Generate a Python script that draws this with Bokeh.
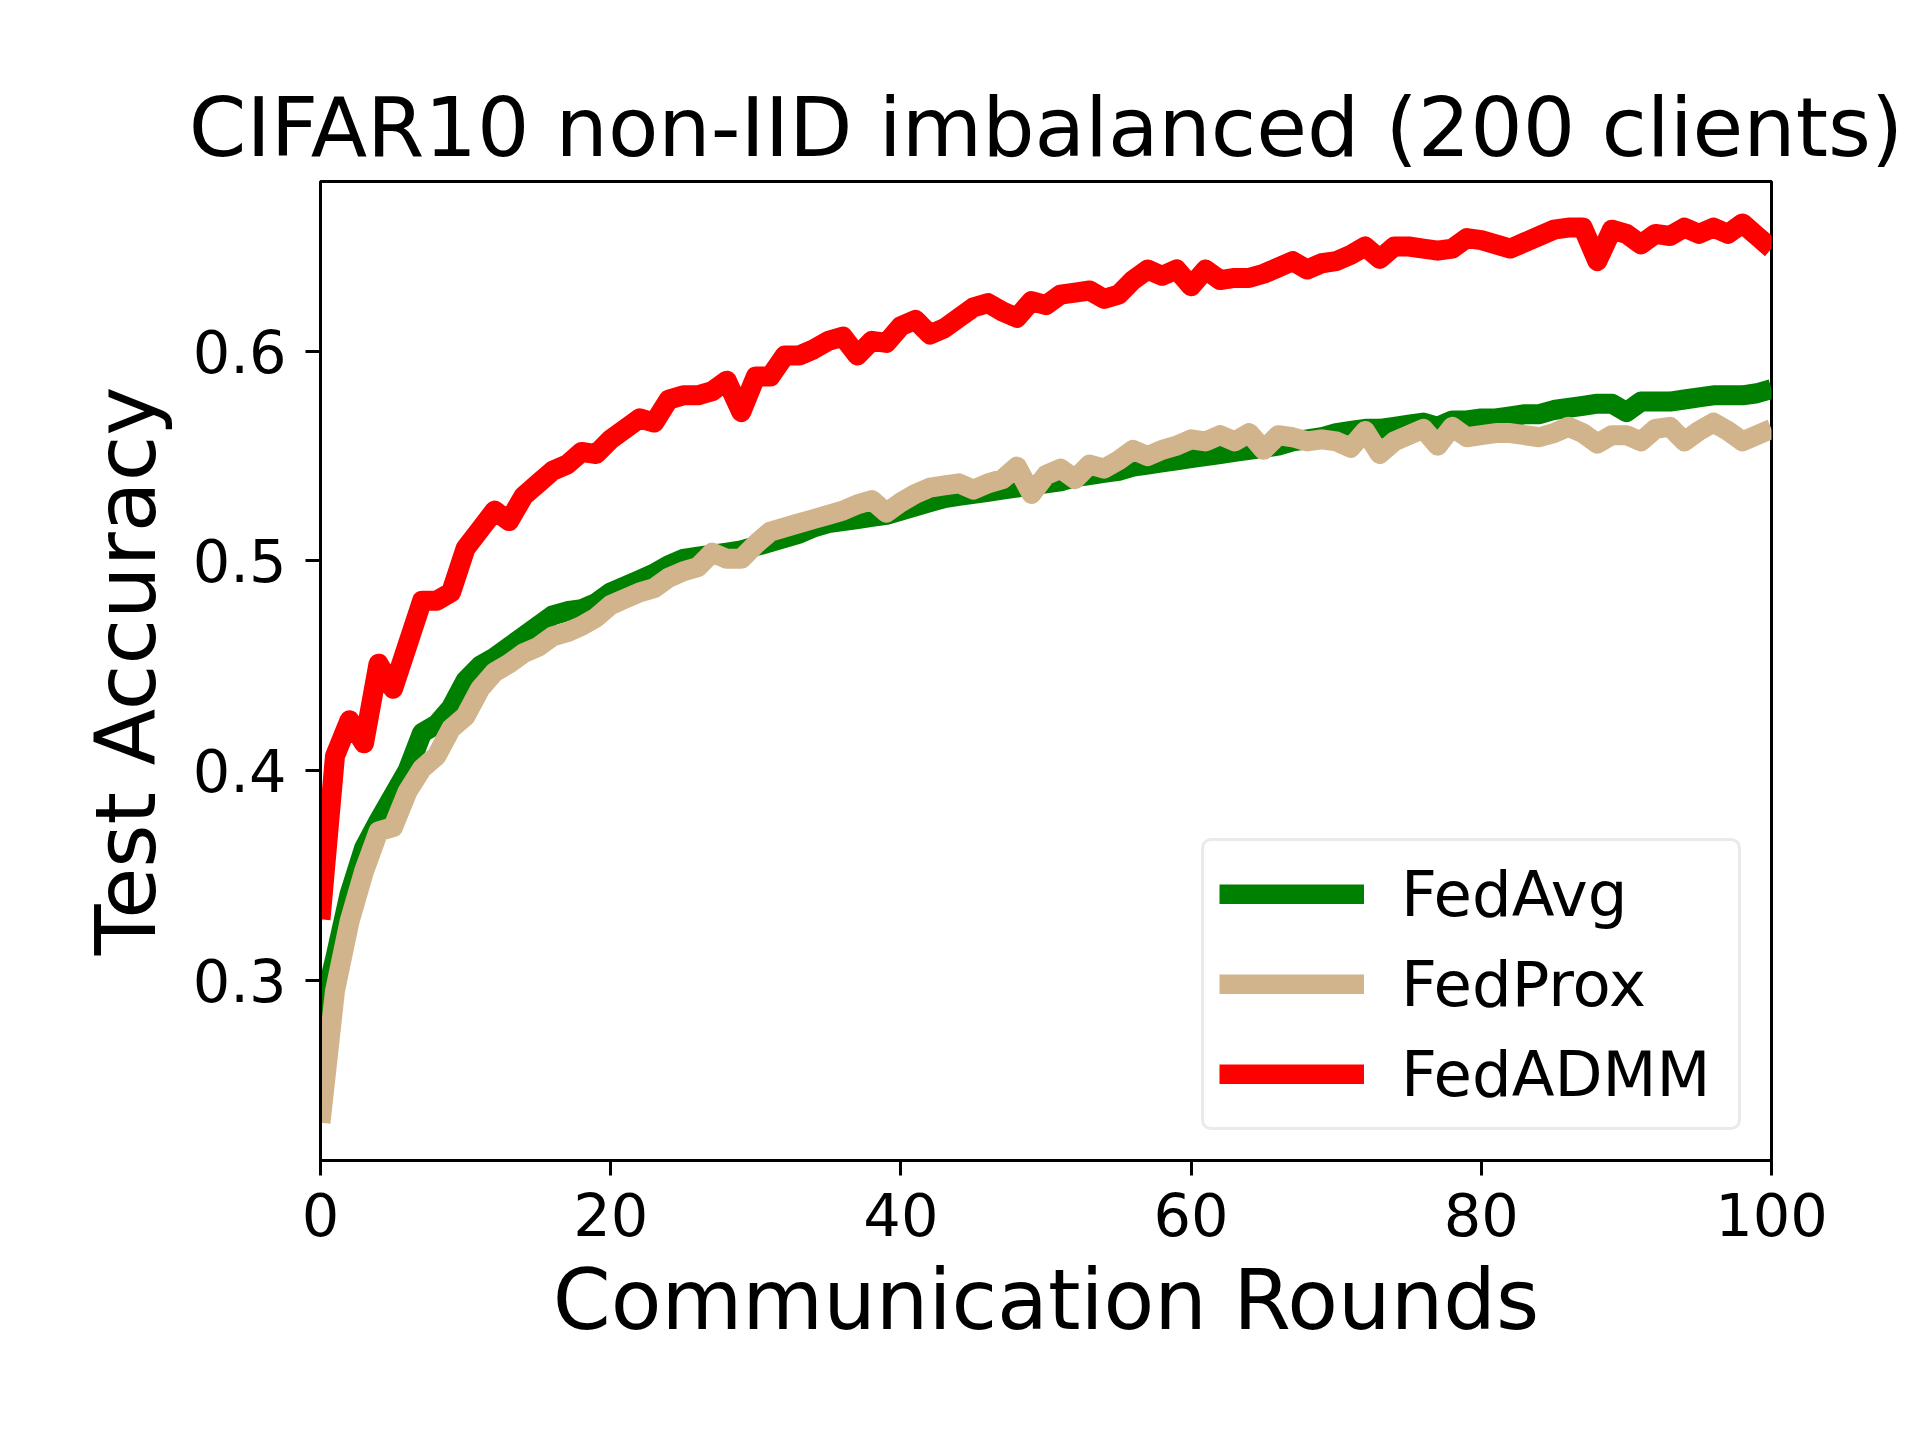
from bokeh.plotting import figure
from bokeh.models import Range1d, FixedTicker, Legend, LegendItem
from bokeh.embed import file_html
from bokeh.resources import INLINE

rounds = list(range(0, 101))

fedavg = [
    0.282, 0.310, 0.341, 0.363, 0.376, 0.388, 0.400, 0.418, 0.422, 0.430,
    0.443, 0.450, 0.454, 0.459, 0.464, 0.469, 0.474, 0.476, 0.477, 0.480,
    0.485, 0.488, 0.491, 0.494, 0.498, 0.501, 0.502, 0.503, 0.504, 0.505,
    0.507, 0.509, 0.511, 0.513, 0.516, 0.518, 0.519, 0.520, 0.521, 0.522,
    0.524, 0.526, 0.528, 0.530, 0.531, 0.532, 0.533, 0.534, 0.535, 0.536,
    0.537, 0.538, 0.540, 0.541, 0.542, 0.543, 0.545, 0.546, 0.547, 0.548,
    0.549, 0.550, 0.551, 0.552, 0.553, 0.554, 0.555, 0.557, 0.558, 0.559,
    0.561, 0.562, 0.563, 0.563, 0.564, 0.565, 0.566, 0.564, 0.567, 0.567,
    0.568, 0.568, 0.569, 0.570, 0.570, 0.572, 0.573, 0.574, 0.575, 0.575,
    0.571, 0.576, 0.576, 0.576, 0.577, 0.578, 0.579, 0.579, 0.579, 0.580,
    0.582,
]

fedprox = [
    0.232, 0.295, 0.328, 0.352, 0.371, 0.373, 0.390, 0.401, 0.407, 0.420,
    0.426, 0.439, 0.447, 0.451, 0.456, 0.459, 0.464, 0.466, 0.469, 0.473,
    0.479, 0.482, 0.485, 0.487, 0.492, 0.495, 0.497, 0.504, 0.501, 0.501,
    0.508, 0.514, 0.516, 0.518, 0.520, 0.522, 0.524, 0.527, 0.529, 0.523,
    0.528, 0.532, 0.535, 0.536, 0.537, 0.534, 0.537, 0.539, 0.545, 0.532,
    0.541, 0.544, 0.539, 0.546, 0.544, 0.548, 0.553, 0.550, 0.553, 0.555,
    0.558, 0.557, 0.560, 0.557, 0.561, 0.553, 0.560, 0.559, 0.557, 0.558,
    0.557, 0.554, 0.562, 0.551, 0.557, 0.560, 0.563, 0.555, 0.564, 0.559,
    0.560, 0.561, 0.561, 0.560, 0.559, 0.561, 0.564, 0.561, 0.556, 0.560,
    0.560, 0.557, 0.563, 0.564, 0.557, 0.562, 0.566, 0.562, 0.557, 0.560,
    0.563,
]

fedadmm = [
    0.329, 0.407, 0.424, 0.413, 0.451, 0.439, 0.460, 0.481, 0.481, 0.485,
    0.506, 0.515, 0.524, 0.519, 0.531, 0.537, 0.543, 0.546, 0.552, 0.551,
    0.558, 0.563, 0.568, 0.566, 0.577, 0.579, 0.579, 0.581, 0.586, 0.571,
    0.588, 0.588, 0.598, 0.598, 0.601, 0.605, 0.607, 0.598, 0.605, 0.604,
    0.612, 0.615, 0.608, 0.611, 0.616, 0.621, 0.623, 0.619, 0.616, 0.624,
    0.622, 0.627, 0.628, 0.629, 0.625, 0.627, 0.634, 0.639, 0.636, 0.639,
    0.631, 0.639, 0.634, 0.635, 0.635, 0.637, 0.640, 0.643, 0.639, 0.642,
    0.643, 0.646, 0.650, 0.644, 0.650, 0.650, 0.649, 0.648, 0.649, 0.654,
    0.653, 0.651, 0.649, 0.652, 0.655, 0.658, 0.659, 0.659, 0.643, 0.658,
    0.656, 0.651, 0.656, 0.655, 0.659, 0.656, 0.659, 0.656, 0.661, 0.655,
    0.649,
]

series_names = ["FedAvg", "FedProx", "FedADMM"]
series_colors = ["#008000", "#d2b48c", "#ff0000"]
x_ticks = [0, 20, 40, 60, 80, 100]
y_ticks = [0.3, 0.4, 0.5, 0.6]

FONT = "DejaVu Sans"

p = figure(
    width=1904, height=1424,
    output_backend="svg", toolbar_location=None,
    x_range=Range1d(0, 100), y_range=Range1d(0.214, 0.681),
    min_border_left=320, min_border_right=133,
    min_border_top=181, min_border_bottom=264,
    title="CIFAR10 non-IID imbalanced (200 clients)",
)
p.background_fill_color = "white"
p.border_fill_color = "white"
p.grid.visible = False
p.outline_line_color = "black"
p.outline_line_width = 3

p.title.text_font = FONT
p.title.text_font_size = "82.5px"
p.title.text_font_style = "normal"
p.title.align = "center"
p.title.text_color = "black"
p.title.standoff = 14

p.xaxis.ticker = FixedTicker(ticks=x_ticks)
p.yaxis.ticker = FixedTicker(ticks=y_ticks)
for ax in (p.xaxis, p.yaxis):
    ax.axis_line_width = 3
    ax.axis_line_color = "black"
    ax.major_tick_line_width = 3
    ax.major_tick_line_color = "black"
    ax.major_tick_out = 15
    ax.major_tick_in = 0
    ax.minor_tick_line_color = None
    ax.major_label_text_font = FONT
    ax.major_label_text_font_size = "59px"
    ax.major_label_text_color = "black"
    ax.axis_label_text_font = FONT
    ax.axis_label_text_font_size = "83px"
    ax.axis_label_text_font_style = "normal"
    ax.axis_label_text_color = "black"

p.xaxis.major_label_standoff = 17
p.xaxis.axis_label_standoff = 13
p.yaxis.major_label_standoff = 19
p.yaxis.axis_label_standoff = 15

p.xaxis.axis_label = "Communication Rounds"
p.yaxis.axis_label = "Test Accuracy"

items = []
for name, color, ys in zip(series_names, series_colors, [fedavg, fedprox, fedadmm]):
    r = p.line(rounds, ys, line_color=color, line_width=20,
               line_join="round", line_cap="butt")
    items.append(LegendItem(label=name, renderers=[r]))

legend = Legend(items=items, location="bottom_right")
legend.margin = 30
legend.padding = 15
legend.spacing = 14
legend.glyph_width = 145
legend.glyph_height = 20
legend.label_height = 76
legend.label_width = 322
legend.label_standoff = 37
legend.label_text_font = FONT
legend.label_text_font_size = "62.5px"
legend.label_text_color = "black"
legend.border_line_color = "#d6d6d6"
legend.border_line_width = 3.5
legend.background_fill_color = "white"
legend.background_fill_alpha = 1.0
if "border_radius" in legend.properties():
    legend.border_radius = 10
p.add_layout(legend)

open("out.html", "w").write(file_html(p, INLINE))
